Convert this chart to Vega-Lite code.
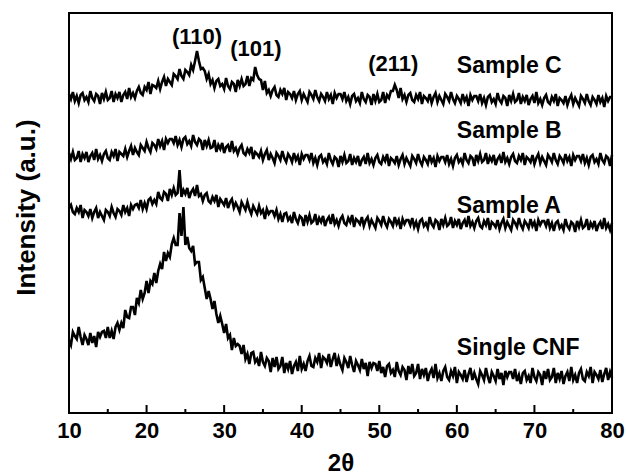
{
"$schema": "https://vega.github.io/schema/vega-lite/v6.json",
"width": 543, "height": 400,
"autosize": {"type": "none"},
"padding": {"left": 69, "top": 13, "right": 14, "bottom": 62},
"background": "white",
"config": {"view": {"stroke": "black", "strokeWidth": 2}, "font": "Liberation Sans"},
"datasets": {
"xrd": [
{"t":10,"C":319,"B":260,"A":205,"N":73},{"t":10.25,"C":314,"B":254,"A":208,"N":68},{"t":10.5,"C":321,"B":261,"A":201,"N":81},{"t":10.75,"C":312,"B":253,"A":199,"N":77},
{"t":11,"C":317,"B":255,"A":205,"N":74},{"t":11.25,"C":310,"B":262,"A":201,"N":86},{"t":11.5,"C":318,"B":251,"A":208,"N":76},{"t":11.75,"C":320,"B":259,"A":195,"N":68},
{"t":12,"C":313,"B":255,"A":203,"N":78},{"t":12.25,"C":316,"B":261,"A":201,"N":74},{"t":12.5,"C":311,"B":251,"A":197,"N":68},{"t":12.75,"C":322,"B":257,"A":204,"N":80},
{"t":13,"C":315,"B":260,"A":195,"N":70},{"t":13.25,"C":312,"B":253,"A":201,"N":77},{"t":13.5,"C":319,"B":264,"A":205,"N":66},{"t":13.75,"C":317,"B":254,"A":195,"N":81},
{"t":14,"C":309,"B":258,"A":201,"N":76},{"t":14.25,"C":320,"B":252,"A":197,"N":81},{"t":14.5,"C":314,"B":259,"A":193,"N":82},{"t":14.75,"C":321,"B":262,"A":203,"N":75},
{"t":15,"C":313,"B":255,"A":201,"N":86},{"t":15.25,"C":315,"B":253,"A":197,"N":75},{"t":15.5,"C":322,"B":261,"A":206,"N":82},{"t":15.75,"C":311,"B":257,"A":200,"N":74},
{"t":16,"C":319,"B":264,"A":196,"N":86},{"t":16.25,"C":315,"B":252,"A":204,"N":90},{"t":16.5,"C":321,"B":261,"A":202,"N":83},{"t":16.75,"C":311,"B":259,"A":198,"N":90},
{"t":17,"C":318,"B":257,"A":208,"N":85},{"t":17.25,"C":321,"B":264,"A":201,"N":103},{"t":17.5,"C":314,"B":256,"A":205,"N":96},{"t":17.75,"C":325,"B":262,"A":197,"N":95},
{"t":18,"C":316,"B":267,"A":208,"N":106},{"t":18.25,"C":320,"B":258,"A":204,"N":106},{"t":18.5,"C":315,"B":265,"A":208,"N":98},{"t":18.75,"C":322,"B":261,"A":209,"N":115},
{"t":19,"C":326,"B":258,"A":205,"N":110},{"t":19.25,"C":320,"B":268,"A":213,"N":123},{"t":19.5,"C":318,"B":265,"A":204,"N":114},{"t":19.75,"C":326,"B":262,"A":210,"N":120},
{"t":20,"C":323,"B":271,"A":204,"N":132},{"t":20.25,"C":331,"B":265,"A":213,"N":120},{"t":20.5,"C":319,"B":261,"A":215,"N":132},{"t":20.75,"C":328,"B":270,"A":209,"N":129},
{"t":21,"C":327,"B":268,"A":213,"N":140},{"t":21.25,"C":325,"B":264,"A":209,"N":130},{"t":21.5,"C":332,"B":274,"A":221,"N":142},{"t":21.75,"C":324,"B":267,"A":215,"N":149},
{"t":22,"C":331,"B":272,"A":213,"N":144},{"t":22.25,"C":336,"B":263,"A":221,"N":161},{"t":22.5,"C":327,"B":274,"A":219,"N":152},{"t":22.75,"C":334,"B":270,"A":212,"N":160},
{"t":23,"C":331,"B":274,"A":224,"N":156},{"t":23.25,"C":328,"B":274,"A":218,"N":169},{"t":23.5,"C":339,"B":270,"A":225,"N":175},{"t":23.75,"C":337,"B":277,"A":218,"N":168},
{"t":24,"C":334,"B":268,"A":220,"N":168},{"t":24.25,"C":344,"B":273,"A":243,"N":200},{"t":24.5,"C":337,"B":266,"A":216,"N":177},{"t":24.75,"C":334,"B":274,"A":223,"N":206},
{"t":25,"C":343,"B":276,"A":219,"N":168},{"t":25.25,"C":341,"B":269,"A":225,"N":176},{"t":25.5,"C":338,"B":272,"A":215,"N":165},{"t":25.75,"C":348,"B":267,"A":221,"N":162},
{"t":26,"C":343,"B":278,"A":224,"N":167},{"t":26.25,"C":352,"B":271,"A":217,"N":149},{"t":26.5,"C":362,"B":268,"A":228,"N":151},{"t":26.75,"C":352,"B":274,"A":217,"N":151},
{"t":27,"C":344,"B":272,"A":219,"N":133},{"t":27.25,"C":345,"B":263,"A":212,"N":136},{"t":27.5,"C":342,"B":273,"A":218,"N":125},{"t":27.75,"C":334,"B":267,"A":220,"N":114},
{"t":28,"C":339,"B":273,"A":212,"N":122},{"t":28.25,"C":329,"B":265,"A":210,"N":114},{"t":28.5,"C":333,"B":266,"A":216,"N":104},{"t":28.75,"C":325,"B":273,"A":212,"N":112},
{"t":29,"C":332,"B":261,"A":218,"N":99},{"t":29.25,"C":334,"B":268,"A":206,"N":90},{"t":29.5,"C":327,"B":264,"A":214,"N":97},{"t":29.75,"C":329,"B":270,"A":211,"N":89},
{"t":30,"C":324,"B":260,"A":208,"N":80},{"t":30.25,"C":335,"B":266,"A":215,"N":89},{"t":30.5,"C":327,"B":268,"A":205,"N":75},{"t":30.75,"C":324,"B":261,"A":211,"N":78},
{"t":31,"C":331,"B":272,"A":214,"N":63},{"t":31.25,"C":329,"B":262,"A":205,"N":75},{"t":31.5,"C":321,"B":265,"A":210,"N":67},{"t":31.75,"C":333,"B":259,"A":206,"N":69},
{"t":32,"C":327,"B":265,"A":201,"N":67},{"t":32.25,"C":334,"B":268,"A":211,"N":59},{"t":32.5,"C":327,"B":260,"A":207,"N":68},{"t":32.75,"C":329,"B":258,"A":203,"N":54},
{"t":33,"C":337,"B":264,"A":211,"N":59},{"t":33.25,"C":327,"B":260,"A":204,"N":49},{"t":33.5,"C":335,"B":266,"A":199,"N":60},{"t":33.75,"C":333,"B":254,"A":207,"N":61},
{"t":34,"C":346,"B":261,"A":203,"N":51},{"t":34.25,"C":338,"B":259,"A":199,"N":54},{"t":34.5,"C":334,"B":256,"A":207,"N":47},{"t":34.75,"C":333,"B":262,"A":200,"N":61},
{"t":35,"C":323,"B":253,"A":203,"N":51},{"t":35.25,"C":332,"B":259,"A":194,"N":47},{"t":35.5,"C":320,"B":263,"A":204,"N":55},{"t":35.75,"C":323,"B":253,"A":199,"N":52},
{"t":36,"C":317,"B":259,"A":202,"N":41},{"t":36.25,"C":323,"B":255,"A":202,"N":55},{"t":36.5,"C":326,"B":250,"A":197,"N":46},{"t":36.75,"C":318,"B":260,"A":203,"N":56},
{"t":37,"C":316,"B":257,"A":194,"N":44},{"t":37.25,"C":323,"B":253,"A":199,"N":47},{"t":37.5,"C":319,"B":262,"A":191,"N":56},{"t":37.75,"C":325,"B":255,"A":199,"N":40},
{"t":38,"C":313,"B":251,"A":200,"N":50},{"t":38.25,"C":321,"B":259,"A":193,"N":44},{"t":38.5,"C":319,"B":256,"A":196,"N":52},{"t":38.75,"C":315,"B":251,"A":190,"N":39},
{"t":39,"C":322,"B":260,"A":201,"N":47},{"t":39.25,"C":313,"B":253,"A":194,"N":51},{"t":39.5,"C":319,"B":257,"A":190,"N":42},{"t":39.75,"C":322,"B":248,"A":197,"N":57},
{"t":40,"C":313,"B":259,"A":195,"N":44},{"t":40.25,"C":319,"B":254,"A":187,"N":49},{"t":40.5,"C":315,"B":258,"A":198,"N":42},{"t":40.75,"C":311,"B":258,"A":191,"N":52},
{"t":41,"C":321,"B":253,"A":198,"N":57},{"t":41.25,"C":318,"B":260,"A":190,"N":47},{"t":41.5,"C":314,"B":250,"A":192,"N":46},{"t":41.75,"C":323,"B":255,"A":199,"N":55},
{"t":42,"C":316,"B":248,"A":188,"N":51},{"t":42.25,"C":312,"B":256,"A":195,"N":60},{"t":42.5,"C":319,"B":258,"A":191,"N":45},{"t":42.75,"C":316,"B":251,"A":197,"N":56},
{"t":43,"C":312,"B":254,"A":187,"N":54},{"t":43.25,"C":321,"B":249,"A":193,"N":50},{"t":43.5,"C":314,"B":260,"A":196,"N":59},{"t":43.75,"C":318,"B":253,"A":189,"N":46},
{"t":44,"C":309,"B":249,"A":199,"N":54},{"t":44.25,"C":320,"B":256,"A":189,"N":60},{"t":44.5,"C":315,"B":254,"A":193,"N":47},{"t":44.75,"C":319,"B":246,"A":187,"N":55},
{"t":45,"C":319,"B":257,"A":194,"N":48},{"t":45.25,"C":314,"B":251,"A":197,"N":43},{"t":45.5,"C":321,"B":258,"A":190,"N":55},{"t":45.75,"C":312,"B":250,"A":188,"N":51},
{"t":46,"C":316,"B":252,"A":195,"N":45},{"t":46.25,"C":309,"B":259,"A":191,"N":57},{"t":46.5,"C":317,"B":248,"A":198,"N":48},{"t":46.75,"C":319,"B":255,"A":186,"N":41},
{"t":47,"C":312,"B":251,"A":194,"N":52},{"t":47.25,"C":315,"B":257,"A":192,"N":48},{"t":47.5,"C":310,"B":247,"A":189,"N":43},{"t":47.75,"C":321,"B":253,"A":196,"N":54},
{"t":48,"C":314,"B":256,"A":187,"N":44},{"t":48.25,"C":311,"B":249,"A":193,"N":50},{"t":48.5,"C":318,"B":260,"A":196,"N":37},{"t":48.75,"C":316,"B":250,"A":187,"N":51},
{"t":49,"C":308,"B":254,"A":193,"N":45},{"t":49.25,"C":319,"B":248,"A":189,"N":50},{"t":49.5,"C":312,"B":255,"A":185,"N":49},{"t":49.75,"C":319,"B":258,"A":195,"N":42},
{"t":50,"C":311,"B":251,"A":192,"N":52},{"t":50.25,"C":313,"B":249,"A":188,"N":40},{"t":50.5,"C":321,"B":256,"A":197,"N":46},{"t":50.75,"C":310,"B":252,"A":190,"N":36},
{"t":51,"C":318,"B":259,"A":186,"N":47},{"t":51.25,"C":315,"B":247,"A":194,"N":49},{"t":51.5,"C":322,"B":255,"A":191,"N":40},{"t":51.75,"C":322,"B":253,"A":187,"N":43},
{"t":52,"C":328,"B":250,"A":196,"N":36},{"t":52.25,"C":323,"B":257,"A":189,"N":51},{"t":52.5,"C":315,"B":248,"A":193,"N":42},{"t":52.75,"C":325,"B":254,"A":184,"N":38},
{"t":53,"C":314,"B":258,"A":194,"N":46},{"t":53.25,"C":318,"B":249,"A":189,"N":43},{"t":53.5,"C":311,"B":255,"A":193,"N":33},{"t":53.75,"C":318,"B":251,"A":193,"N":47},
{"t":54,"C":320,"B":247,"A":188,"N":39},{"t":54.25,"C":313,"B":257,"A":195,"N":49},{"t":54.5,"C":311,"B":254,"A":186,"N":37},{"t":54.75,"C":318,"B":250,"A":191,"N":40},
{"t":55,"C":314,"B":259,"A":184,"N":49},{"t":55.25,"C":321,"B":252,"A":192,"N":34},{"t":55.5,"C":309,"B":248,"A":194,"N":44},{"t":55.75,"C":317,"B":256,"A":187,"N":38},
{"t":56,"C":315,"B":253,"A":190,"N":45},{"t":56.25,"C":312,"B":249,"A":185,"N":32},{"t":56.5,"C":319,"B":258,"A":196,"N":40},{"t":56.75,"C":310,"B":251,"A":189,"N":44},
{"t":57,"C":316,"B":255,"A":186,"N":35},{"t":57.25,"C":320,"B":246,"A":193,"N":49},{"t":57.5,"C":311,"B":257,"A":191,"N":35},{"t":57.75,"C":317,"B":252,"A":183,"N":40},
{"t":58,"C":313,"B":256,"A":194,"N":32},{"t":58.25,"C":309,"B":256,"A":188,"N":42},{"t":58.5,"C":319,"B":251,"A":195,"N":46},{"t":58.75,"C":316,"B":258,"A":187,"N":36},
{"t":59,"C":312,"B":249,"A":189,"N":33},{"t":59.25,"C":321,"B":254,"A":196,"N":42},{"t":59.5,"C":314,"B":247,"A":185,"N":37},{"t":59.75,"C":310,"B":255,"A":192,"N":46},
{"t":60,"C":317,"B":258,"A":188,"N":30},{"t":60.25,"C":314,"B":251,"A":194,"N":41},{"t":60.5,"C":310,"B":254,"A":184,"N":38},{"t":60.75,"C":319,"B":249,"A":190,"N":34},
{"t":61,"C":312,"B":260,"A":193,"N":43},{"t":61.25,"C":316,"B":253,"A":186,"N":31},{"t":61.5,"C":307,"B":250,"A":197,"N":39},{"t":61.75,"C":318,"B":257,"A":187,"N":45},
{"t":62,"C":313,"B":255,"A":191,"N":33},{"t":62.25,"C":317,"B":247,"A":185,"N":40},{"t":62.5,"C":317,"B":258,"A":192,"N":34},{"t":62.75,"C":312,"B":252,"A":195,"N":29},
{"t":63,"C":319,"B":259,"A":187,"N":42},{"t":63.25,"C":310,"B":251,"A":185,"N":38},{"t":63.5,"C":315,"B":253,"A":192,"N":33},{"t":63.75,"C":308,"B":260,"A":188,"N":45},
{"t":64,"C":316,"B":249,"A":195,"N":36},{"t":64.25,"C":318,"B":256,"A":183,"N":30},{"t":64.5,"C":311,"B":252,"A":191,"N":41},{"t":64.75,"C":314,"B":258,"A":189,"N":37},
{"t":65,"C":309,"B":248,"A":186,"N":32},{"t":65.25,"C":320,"B":254,"A":193,"N":44},{"t":65.5,"C":313,"B":257,"A":184,"N":34},{"t":65.75,"C":310,"B":250,"A":190,"N":40},
{"t":66,"C":317,"B":261,"A":194,"N":28},{"t":66.25,"C":315,"B":251,"A":185,"N":42},{"t":66.5,"C":307,"B":255,"A":191,"N":36},{"t":66.75,"C":318,"B":249,"A":187,"N":41},
{"t":67,"C":312,"B":256,"A":183,"N":41},{"t":67.25,"C":319,"B":259,"A":193,"N":34},{"t":67.5,"C":311,"B":252,"A":190,"N":44},{"t":67.75,"C":313,"B":250,"A":186,"N":32},
{"t":68,"C":320,"B":257,"A":195,"N":38},{"t":68.25,"C":309,"B":253,"A":188,"N":29},{"t":68.5,"C":316,"B":260,"A":184,"N":40},{"t":68.75,"C":312,"B":248,"A":192,"N":42},
{"t":69,"C":318,"B":256,"A":189,"N":33},{"t":69.25,"C":308,"B":254,"A":185,"N":37},{"t":69.5,"C":314,"B":251,"A":194,"N":30},{"t":69.75,"C":317,"B":258,"A":187,"N":45},
{"t":70,"C":310,"B":249,"A":191,"N":36},{"t":70.25,"C":321,"B":255,"A":182,"N":32},{"t":70.5,"C":310,"B":259,"A":193,"N":41},{"t":70.75,"C":314,"B":250,"A":188,"N":38},
{"t":71,"C":308,"B":256,"A":192,"N":28},{"t":71.25,"C":315,"B":252,"A":192,"N":42},{"t":71.5,"C":318,"B":248,"A":187,"N":34},{"t":71.75,"C":311,"B":258,"A":194,"N":44},
{"t":72,"C":309,"B":255,"A":185,"N":33},{"t":72.25,"C":316,"B":251,"A":190,"N":36},{"t":72.5,"C":312,"B":260,"A":182,"N":45},{"t":72.75,"C":319,"B":253,"A":190,"N":30},
{"t":73,"C":307,"B":249,"A":192,"N":40},{"t":73.25,"C":315,"B":257,"A":185,"N":34},{"t":73.5,"C":313,"B":254,"A":188,"N":42},{"t":73.75,"C":310,"B":250,"A":183,"N":29},
{"t":74,"C":317,"B":259,"A":194,"N":37},{"t":74.25,"C":308,"B":252,"A":187,"N":41},{"t":74.5,"C":314,"B":256,"A":184,"N":32},{"t":74.75,"C":318,"B":247,"A":191,"N":46},
{"t":75,"C":309,"B":258,"A":189,"N":33},{"t":75.25,"C":315,"B":253,"A":181,"N":38},{"t":75.5,"C":311,"B":257,"A":192,"N":30},{"t":75.75,"C":307,"B":257,"A":186,"N":40},
{"t":76,"C":317,"B":252,"A":193,"N":44},{"t":76.25,"C":314,"B":259,"A":185,"N":34},{"t":76.5,"C":310,"B":250,"A":187,"N":32},{"t":76.75,"C":319,"B":255,"A":194,"N":41},
{"t":77,"C":312,"B":248,"A":183,"N":37},{"t":77.25,"C":308,"B":256,"A":190,"N":46},{"t":77.5,"C":316,"B":258,"A":186,"N":30},{"t":77.75,"C":313,"B":251,"A":192,"N":41},
{"t":78,"C":309,"B":254,"A":182,"N":38},{"t":78.25,"C":318,"B":249,"A":188,"N":34},{"t":78.5,"C":311,"B":260,"A":191,"N":43},{"t":78.75,"C":315,"B":253,"A":184,"N":31},
{"t":79,"C":306,"B":250,"A":195,"N":39},{"t":79.25,"C":317,"B":257,"A":185,"N":45},{"t":79.5,"C":312,"B":255,"A":189,"N":33},{"t":79.75,"C":316,"B":247,"A":183,"N":41},
{"t":80,"C":316,"B":258,"A":190,"N":35}
],
"labels": [
{"t":26.5,"v":369,"label":"(110)","kind":"peak"},
{"t":34.1,"v":357,"label":"(101)","kind":"peak"},
{"t":51.8,"v":342,"label":"(211)","kind":"peak"},
{"t":60,"v":340,"label":"Sample C","kind":"sample"},
{"t":60,"v":275,"label":"Sample B","kind":"sample"},
{"t":60,"v":200,"label":"Sample A","kind":"sample"},
{"t":60,"v":58,"label":"Single CNF","kind":"sample"}
],
"ticks": [
{"t":10,"major":"yes"},{"t":15,"major":"no"},{"t":20,"major":"yes"},{"t":25,"major":"no"},{"t":30,"major":"yes"},{"t":35,"major":"no"},{"t":40,"major":"yes"},{"t":45,"major":"no"},
{"t":50,"major":"yes"},{"t":55,"major":"no"},{"t":60,"major":"yes"},{"t":65,"major":"no"},{"t":70,"major":"yes"},{"t":75,"major":"no"},{"t":80,"major":"yes"}
]
},
"layer": [
{
"data": {"name": "xrd"},
"transform": [{"fold": ["C", "B", "A", "N"], "as": ["s", "v"]}],
"mark": {"type": "line", "color": "black", "strokeWidth": 2.6},
"encoding": {
"x": {"field": "t", "type": "quantitative", "scale": {"domain": [10, 80], "nice": false, "zero": false},
"axis": {"values": [10, 20, 30, 40, 50, 60, 70, 80], "format": "d", "ticks": false, "domain": false, "grid": false,
"labelFont": "Liberation Sans", "labelFontSize": 22, "labelFontWeight": "bold", "labelColor": "black", "labelPadding": 7, "labelFlush": false, "labelOverlap": false,
"title": "2θ", "titleFont": "Liberation Sans", "titleFontSize": 24, "titleFontWeight": "bold", "titleColor": "black", "titleX": 271.5, "titleY": 57, "titleAlign": "center", "titleBaseline": "alphabetic"}},
"y": {"field": "v", "type": "quantitative", "scale": {"domain": [0, 400], "nice": false, "zero": false},
"axis": {"labels": false, "ticks": false, "domain": false, "grid": false,
"title": "Intensity (a.u.)", "titleFont": "Liberation Sans", "titleFontSize": 26, "titleFontWeight": "bold", "titleColor": "black", "titleAngle": -90, "titleX": -35, "titleY": 194, "titleAlign": "center", "titleBaseline": "alphabetic"}},
"detail": {"field": "s", "type": "nominal"}
}
},
{
"data": {"name": "ticks"},
"transform": [{"filter": "datum.major === 'yes'"}],
"mark": {"type": "rule", "color": "black", "strokeWidth": 2},
"encoding": {
"x": {"field": "t", "type": "quantitative"},
"y": {"datum": 0},
"y2": {"datum": 8}
}
},
{
"data": {"name": "ticks"},
"transform": [{"filter": "datum.major === 'no'"}],
"mark": {"type": "rule", "color": "black", "strokeWidth": 2},
"encoding": {
"x": {"field": "t", "type": "quantitative"},
"y": {"datum": 0},
"y2": {"datum": 4}
}
},
{
"data": {"name": "labels"},
"transform": [{"filter": "datum.kind === 'peak'"}],
"mark": {"type": "text", "font": "Liberation Sans", "fontSize": 22, "fontWeight": "bold", "color": "black", "align": "center", "baseline": "alphabetic"},
"encoding": {
"x": {"field": "t", "type": "quantitative"},
"y": {"field": "v", "type": "quantitative"},
"text": {"field": "label"}
}
},
{
"data": {"name": "labels"},
"transform": [{"filter": "datum.kind === 'sample'"}],
"mark": {"type": "text", "font": "Liberation Sans", "fontSize": 23, "fontWeight": "bold", "color": "black", "align": "left", "baseline": "alphabetic"},
"encoding": {
"x": {"field": "t", "type": "quantitative"},
"y": {"field": "v", "type": "quantitative"},
"text": {"field": "label"}
}
}
]
}
